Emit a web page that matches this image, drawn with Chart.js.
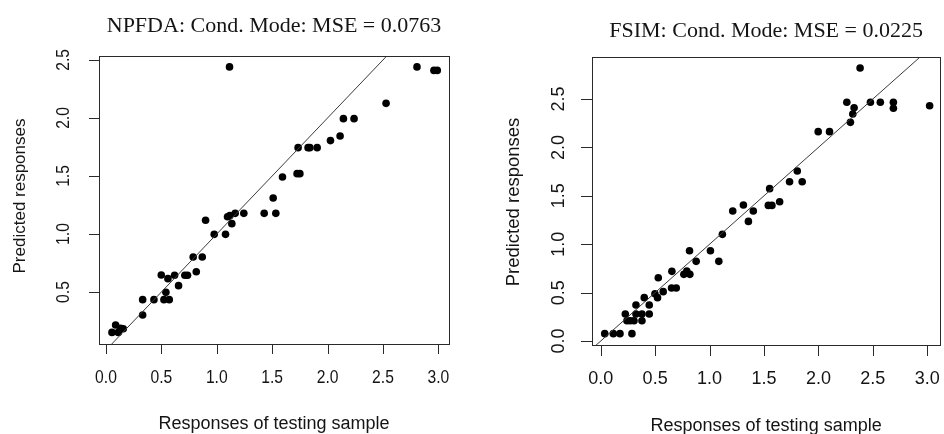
<!DOCTYPE html>
<html><head><meta charset="utf-8">
<script src="https://cdn.jsdelivr.net/npm/chart.js@4/dist/chart.umd.min.js"></script>
<style>
html,body{margin:0;padding:0;background:#fff;width:944px;height:434px;overflow:hidden}
canvas{position:absolute;top:0}
#c1{left:0}#c2{left:472px}
</style></head><body>
<canvas id="c1" width="472" height="434"></canvas>
<canvas id="c2" width="472" height="434"></canvas>
<script>
// ---- data ----
const npfdaTitle = "NPFDA: Cond. Mode: MSE = 0.0763";
const fsimTitle = "FSIM: Cond. Mode: MSE = 0.0225";
const xAxisTitle = "Responses of testing sample";
const yAxisTitle = "Predicted responses";

const npfdaX = [1.115, 2.807, 2.96, 2.99, 2.528, 2.143, 2.239, 2.026, 2.113, 1.734, 1.824, 1.84, 1.906, 1.725, 1.75, 1.593, 1.509, 1.428, 1.533, 1.244, 1.166, 1.097, 1.118, 1.136, 0.899, 0.977, 1.079, 0.787, 0.869, 0.815, 0.712, 0.736, 0.619, 0.499, 0.559, 0.655, 0.541, 0.331, 0.433, 0.523, 0.571, 0.331, 0.054, 0.087, 0.111, 0.132, 0.156];
const npfdaY = [2.44, 2.44, 2.41, 2.41, 2.126, 1.994, 1.994, 1.805, 1.845, 1.744, 1.744, 1.744, 1.744, 1.52, 1.52, 1.491, 1.31, 1.178, 1.178, 1.178, 1.178, 1.149, 1.158, 1.089, 1.118, 0.997, 0.997, 0.802, 0.802, 0.675, 0.644, 0.644, 0.644, 0.647, 0.615, 0.555, 0.497, 0.434, 0.434, 0.434, 0.434, 0.302, 0.152, 0.216, 0.152, 0.187, 0.184];

const fsimX = [2.383, 2.261, 2.478, 2.569, 2.689, 2.689, 3.022, 2.328, 2.316, 2.294, 1.998, 2.102, 1.806, 1.735, 1.851, 1.552, 1.54, 1.573, 1.644, 1.311, 1.213, 1.402, 1.357, 1.118, 1.008, 1.085, 0.816, 0.877, 0.654, 0.764, 0.819, 0.791, 0.529, 0.651, 0.694, 0.574, 0.498, 0.522, 0.40, 0.446, 0.324, 0.226, 0.379, 0.446, 0.241, 0.272, 0.306, 0.379, 0.324, 0.037, 0.116, 0.177, 0.287];
const fsimY = [2.82, 2.466, 2.466, 2.466, 2.466, 2.404, 2.431, 2.41, 2.345, 2.259, 2.163, 2.163, 1.756, 1.646, 1.646, 1.574, 1.401, 1.401, 1.439, 1.405, 1.343, 1.343, 1.236, 1.102, 0.933, 0.823, 0.933, 0.823, 0.72, 0.689, 0.689, 0.723, 0.654, 0.548, 0.548, 0.51, 0.489, 0.448, 0.448, 0.372, 0.372, 0.279, 0.279, 0.279, 0.21, 0.21, 0.21, 0.21, 0.279, 0.076, 0.076, 0.076, 0.076];

const xTickValues = [0, 0.5, 1.0, 1.5, 2.0, 2.5, 3.0];
const npfdaYTicks = [0.5, 1.0, 1.5, 2.0, 2.5];
const fsimYTicks = [0.0, 0.5, 1.0, 1.5, 2.0, 2.5];
const identityLine = [-1, 4]; // y = x reference line end values

// ---- drawing helpers ----
function drawText(ctx, text, x, y, font, sx, rot, align, baseline) {
  ctx.save();
  ctx.translate(x, y);
  if (rot) ctx.rotate(rot);
  ctx.scale(sx, 1);
  ctx.font = font;
  ctx.textAlign = align;
  ctx.textBaseline = baseline;
  ctx.fillStyle = '#141414';
  ctx.fillText(text, 0, 0);
  ctx.restore();
}

const rFrame = {
  id: 'rFrame',
  afterDraw(chart, args, o) {
    const ctx = chart.ctx, a = chart.chartArea;
    const xs = chart.scales.x, ys = chart.scales.y;
    ctx.save();
    ctx.strokeStyle = '#2a2a2a';
    ctx.lineWidth = 1;
    ctx.strokeRect(Math.round(a.left) + 0.5, Math.round(a.top) + 0.5, Math.round(a.right - a.left), Math.round(a.bottom - a.top));
    ctx.beginPath();
    o.xTicks.forEach(v => {
      const px = Math.round(xs.getPixelForValue(v)) + 0.5;
      ctx.moveTo(px, a.bottom); ctx.lineTo(px, a.bottom + o.tickLen);
    });
    o.yTicks.forEach(v => {
      const py = Math.round(ys.getPixelForValue(v)) + 0.5;
      ctx.moveTo(a.left - o.tickLen, py); ctx.lineTo(a.left, py);
    });
    ctx.stroke();
    ctx.restore();
    o.xTicks.forEach(v => drawText(ctx, v.toFixed(1), xs.getPixelForValue(v), o.xTickY, o.tickFont, o.tickSx, 0, 'center', 'middle'));
    o.yTicks.forEach(v => drawText(ctx, v.toFixed(1), o.yTickX, ys.getPixelForValue(v), o.tickFont, o.tickSx, -Math.PI / 2, 'center', 'middle'));
    const cx = (a.left + a.right) / 2;
    drawText(ctx, o.title, cx, o.titleY, o.titleFont, 1, 0, 'center', 'alphabetic');
    drawText(ctx, xAxisTitle, cx + o.xTitleDx, o.xTitleY, o.xTitleFont, 1, 0, 'center', 'alphabetic');
    drawText(ctx, yAxisTitle, o.yTitleX, o.yTitleY, o.yTitleFont, 1, -Math.PI / 2, 'center', 'middle');
  }
};

function makeChart(id, xsArr, ysArr, padding, xr, yr, frame) {
  const pts = xsArr.map((x, i) => ({ x: x, y: ysArr[i] }));
  return new Chart(document.getElementById(id), {
    type: 'scatter',
    data: {
      datasets: [
        { type: 'line', data: identityLine.map(v => ({ x: v, y: v })), borderColor: '#3a3a3a', borderWidth: 1, pointRadius: 0, fill: false, order: 0 },
        { data: pts, backgroundColor: '#000', borderWidth: 0, pointRadius: 3.8, pointHoverRadius: 3.8, order: 1 }
      ]
    },
    options: {
      responsive: false, animation: false, devicePixelRatio: 1,
      layout: { padding: padding },
      scales: {
        x: { type: 'linear', display: false, min: xr[0], max: xr[1] },
        y: { type: 'linear', display: false, min: yr[0], max: yr[1] }
      },
      plugins: { legend: { display: false }, tooltip: { enabled: false }, rFrame: frame }
    },
    plugins: [rFrame]
  });
}

makeChart('c1', npfdaX, npfdaY,
  { left: 99, right: 23, top: 56, bottom: 90 },
  [-0.063, 3.096], [0.052, 2.534],
  { title: npfdaTitle, titleY: 32, titleFont: '22px "Liberation Serif"',
    xTicks: xTickValues, yTicks: npfdaYTicks, tickLen: 10,
    tickFont: '18px "Liberation Sans"', tickSx: 0.87, xTickY: 378, yTickX: 64,
    xTitleY: 429, xTitleDx: 0, xTitleFont: '18px "Liberation Sans"',
    yTitleX: 20, yTitleY: 196, yTitleFont: '17px "Liberation Sans"' });

makeChart('c2', fsimX, fsimY,
  { left: 120, right: 3, top: 57, bottom: 89 },
  [-0.080, 3.119], [-0.041, 2.934],
  { title: fsimTitle, titleY: 37, titleFont: '22px "Liberation Serif"',
    xTicks: xTickValues, yTicks: fsimYTicks, tickLen: 11,
    tickFont: '18px "Liberation Sans"', tickSx: 1, xTickY: 379, yTickX: 87,
    xTitleY: 431, xTitleDx: 0, xTitleFont: '18px "Liberation Sans"',
    yTitleX: 42, yTitleY: 202, yTitleFont: '18.5px "Liberation Sans"' });
</script>
</body></html>
